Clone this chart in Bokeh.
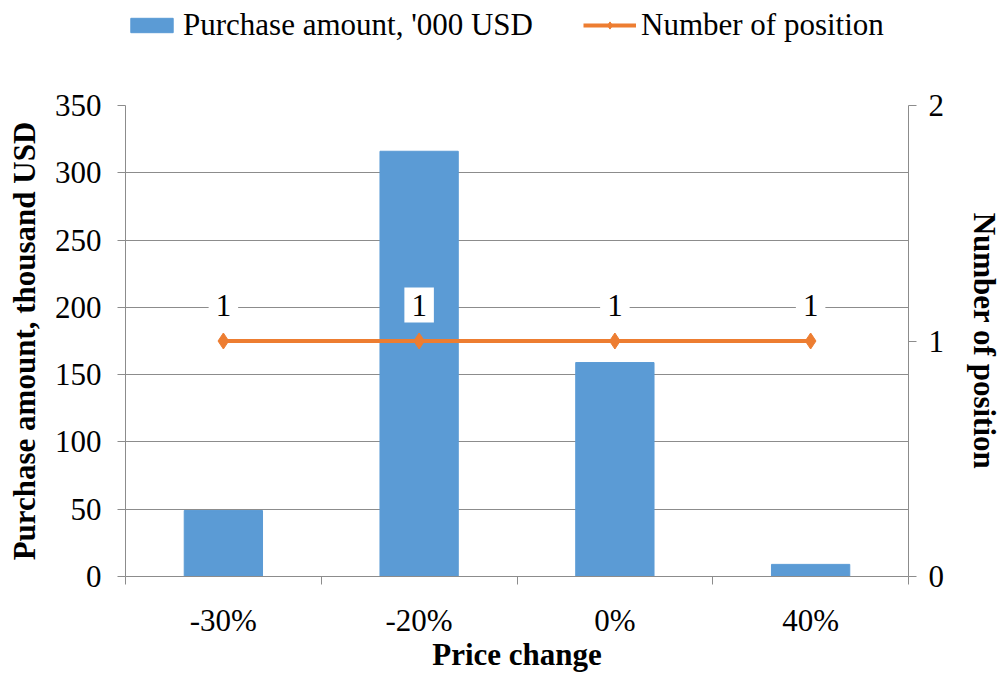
from bokeh.plotting import figure
from bokeh.layouts import column
from bokeh.models import (Range1d, LinearAxis, FixedTicker, ColumnDataSource,
                          Legend, LegendItem)
from bokeh.core.properties import value
from bokeh.embed import file_html
from bokeh.resources import INLINE

categories = ["-30%", "-20%", "0%", "40%"]
purchase_amount = [49, 316, 159, 9]
num_positions = [1, 1, 1, 1]
left_ticks = [0, 50, 100, 150, 200, 250, 300, 350]
right_ticks = [0, 1, 2]
series_names = ["Purchase amount, '000 USD", "Number of position"]

FONT = "Liberation Serif"
FS = "31px"
GRAY = "#8c8c8c"
BLUE = "#5B9BD5"
ORANGE = "#ED7D31"

xs = [i + 0.5 for i in range(len(categories))]
src = ColumnDataSource(dict(x=xs, amt=purchase_amount, cnt=num_positions,
                            lbl=[str(v) for v in num_positions]))

# ---------- legend strip (hidden renderers only supply the legend swatches) ----------
lf = figure(width=1005, height=85, output_backend="svg", toolbar_location=None,
            x_range=Range1d(0, len(categories)), y_range=Range1d(-2, -1), min_border=0,
            x_axis_location=None, y_axis_location=None)
lf.outline_line_color = None
lf.grid.visible = False
lb = lf.vbar(x="x", top="amt", width=0.4, source=src, fill_color=BLUE, line_color=BLUE,
             visible=False)
ll = lf.line(x="x", y="cnt", source=src, line_color=ORANGE, line_width=4, visible=False)
lm = lf.scatter(x="x", y="cnt", source=src, marker="diamond", size=16,
                fill_color=ORANGE, line_color=ORANGE, visible=False)
legend = Legend(items=[LegendItem(label=series_names[0], renderers=[lb]),
                       LegendItem(label=series_names[1], renderers=[ll, lm])],
                orientation="horizontal", location=(0, 42))
legend.label_text_font = FONT
legend.label_text_font_size = FS
legend.label_text_color = "black"
legend.glyph_width = 53
legend.glyph_height = 18
legend.label_standoff = 5
legend.spacing = 50
legend.padding = 0
legend.margin = 0
legend.border_line_color = None
legend.background_fill_alpha = 0
legend.inactive_fill_alpha = 0
lf.add_layout(legend)

# ---------- main chart ----------
p = figure(width=1005, height=589, output_backend="svg", toolbar_location=None,
           x_range=Range1d(0, len(categories)), y_range=Range1d(0, 350),
           min_border_left=125, min_border_right=93, min_border_top=20, min_border_bottom=97)
p.extra_y_ranges = {"right": Range1d(0, 2)}
p.outline_line_color = None
p.background_fill_color = "white"
p.border_fill_color = "white"

bars = p.vbar(x="x", top="amt", width=0.4, source=src, fill_color=BLUE, line_color=BLUE)
ln = p.line(x="x", y="cnt", source=src, y_range_name="right", line_color=ORANGE, line_width=4)
mk = p.scatter(x="x", y="cnt", source=src, y_range_name="right", marker="diamond",
               size=16, fill_color=ORANGE, line_color=ORANGE)

p.text(x="x", y="cnt", text="lbl", source=src, y_range_name="right",
       y_offset=-36, text_align="center", text_baseline="middle",
       text_font=value(FONT), text_font_size=FS, text_color="black",
       background_fill_color="white", padding=7)

# x axis
xa = p.xaxis[0]
xa.ticker = FixedTicker(ticks=xs, minor_ticks=list(range(len(categories) + 1)))
xa.major_label_overrides = {x: c for x, c in zip(xs, categories)}
xa.major_tick_line_color = None
xa.major_tick_out = 0
xa.major_tick_in = 0
xa.minor_tick_line_color = GRAY
xa.minor_tick_out = 8
xa.minor_tick_in = 0
xa.axis_line_color = GRAY
xa.major_label_standoff = 18
xa.major_label_text_font = FONT
xa.major_label_text_font_size = FS
xa.major_label_text_color = "black"
xa.axis_label = "Price change"
xa.axis_label_text_font = FONT
xa.axis_label_text_font_style = "bold"
xa.axis_label_text_font_size = FS
xa.axis_label_text_color = "black"
xa.axis_label_standoff = -4

# left axis
ya = p.yaxis[0]
ya.ticker = FixedTicker(ticks=left_ticks)
ya.minor_tick_line_color = None
ya.major_tick_line_color = GRAY
ya.major_tick_out = 8
ya.major_tick_in = 0
ya.axis_line_color = GRAY
ya.major_label_standoff = 16
ya.major_label_text_font = FONT
ya.major_label_text_font_size = FS
ya.major_label_text_color = "black"
ya.axis_label = "Purchase amount, thousand USD"
ya.axis_label_text_font = FONT
ya.axis_label_text_font_style = "bold"
ya.axis_label_text_font_size = FS
ya.axis_label_text_color = "black"
ya.axis_label_standoff = 10

# right axis
ra = LinearAxis(y_range_name="right", ticker=FixedTicker(ticks=right_ticks))
ra.minor_tick_line_color = None
ra.major_tick_line_color = GRAY
ra.major_tick_out = 8
ra.major_tick_in = 0
ra.axis_line_color = GRAY
ra.major_label_standoff = 12
ra.major_label_text_font = FONT
ra.major_label_text_font_size = FS
ra.major_label_text_color = "black"
ra.axis_label = "Number of position"
ra.axis_label_text_font = FONT
ra.axis_label_text_font_style = "bold"
ra.axis_label_text_font_size = FS
ra.axis_label_text_color = "black"
ra.axis_label_standoff = 20
p.add_layout(ra, "right")

p.xgrid.grid_line_color = None
p.ygrid.grid_line_color = GRAY
p.ygrid.ticker = FixedTicker(ticks=left_ticks)

layout = column(lf, p, spacing=0)
open("out.html", "w").write(file_html(layout, INLINE))
